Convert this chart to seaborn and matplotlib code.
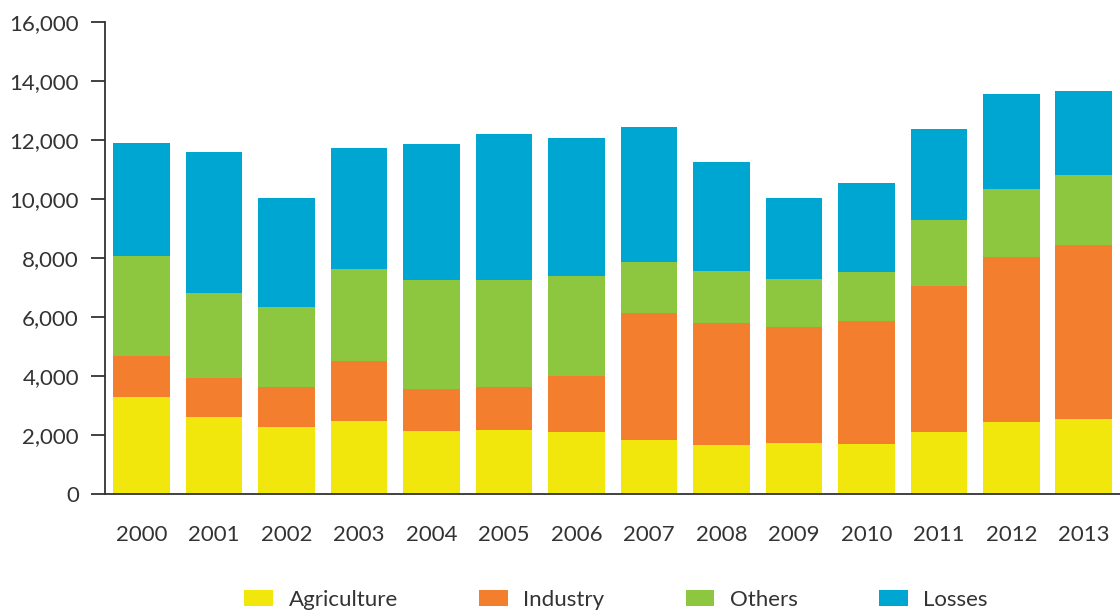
import matplotlib
matplotlib.use("Agg")
import matplotlib.pyplot as plt
import matplotlib.ticker as mticker
from matplotlib.patches import Patch
import seaborn as sns
import pandas as pd
import numpy as np

# data
years = ['2000', '2001', '2002', '2003', '2004', '2005', '2006',
         '2007', '2008', '2009', '2010', '2011', '2012', '2013']
agriculture = [3290, 2610, 2270, 2490, 2140, 2160, 2120, 1830, 1660, 1730, 1710, 2120, 2450, 2540]
industry = [1390, 1310, 1370, 2030, 1420, 1480, 1870, 4295, 4130, 3930, 4140, 4920, 5600, 5900]
others = [3390, 2880, 2710, 3110, 3695, 3615, 3400, 1725, 1770, 1630, 1665, 2250, 2290, 2370]
losses = [3840, 4780, 3680, 4110, 4595, 4960, 4670, 4590, 3680, 2740, 3025, 3070, 3230, 2850]

series = ['Agriculture', 'Industry', 'Others', 'Losses']
colors = ['#F1E70D', '#F37F2E', '#8DC63F', '#00A6D2']

df = pd.DataFrame({'year': years, 'Agriculture': agriculture, 'Industry': industry,
                   'Others': others, 'Losses': losses})
cum = df[series].cumsum(axis=1)
cum['year'] = df['year']

sns.set_style('white')
plt.rcParams['font.family'] = ['Lato', 'DejaVu Sans']
text_color = '#333333'

fig = plt.figure(figsize=(11.2, 6.13), dpi=100)
ax = fig.add_axes([0.094, 0.194, 0.906, 0.77])

# stacked bars: draw cumulative totals, tallest first
for name, col in zip(series[::-1], colors[::-1]):
    sns.barplot(data=cum, x='year', y=name, color=col, saturation=1,
                width=0.78, linewidth=0, ax=ax)

ax.set_ylim(0, 16000)
ax.set_xlim(-0.5, 13.4)
ax.set_yticks(np.arange(0, 16001, 2000))
ax.yaxis.set_major_formatter(mticker.FuncFormatter(lambda v, p: f'{int(v):,}'))

# tick marks between bars, labels at bar centres
ax.set_xticks(np.arange(-0.5, 14, 1))
ax.set_xticklabels([])
ax.set_xticks(np.arange(len(years)), minor=True)
ax.set_xticklabels(years, minor=True)
ax.tick_params(axis='x', which='major', length=9, width=1.3, color=text_color, direction='out')
ax.tick_params(axis='x', which='minor', length=0, pad=22, labelsize=16, labelcolor=text_color)
ax.tick_params(axis='y', length=10, width=1.3, color=text_color, direction='out',
               pad=9, labelsize=16, labelcolor=text_color, left=True)

ax.set_xlabel('')
ax.set_ylabel('')
sns.despine(ax=ax, top=True, right=True)
for s in ['left', 'bottom']:
    ax.spines[s].set_color(text_color)
    ax.spines[s].set_linewidth(1.3)

handles = [Patch(facecolor=c, edgecolor='none', label=n) for n, c in zip(series, colors)]
fig.legend(handles=handles, loc='center', bbox_to_anchor=(0.550, 0.022), ncol=4,
           frameon=False, fontsize=16, handlelength=1.3, handleheight=0.75,
           handletextpad=0.7, columnspacing=3.65, labelcolor=text_color)

fig.savefig('out.png', dpi=100)
